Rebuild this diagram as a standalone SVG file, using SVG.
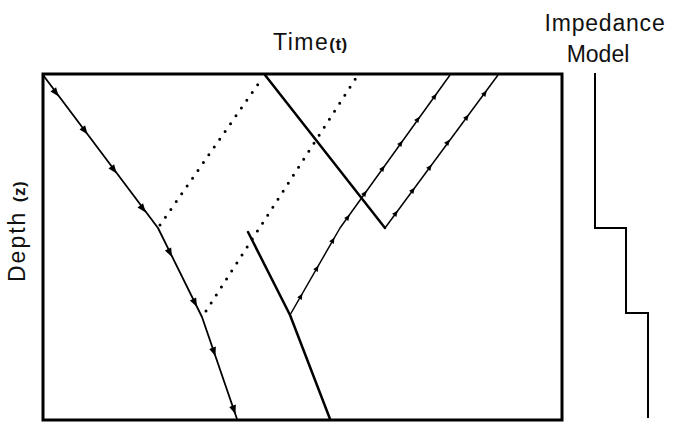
<svg xmlns="http://www.w3.org/2000/svg" xmlns:xlink="http://www.w3.org/1999/xlink" width="675" height="425" viewBox="0 0 675 425">
<style>
.lbl{font-family:"Liberation Sans",Arial,sans-serif;fill:#111;}
.box{fill:none;stroke:#000;stroke-width:3;}
.thick{fill:none;stroke:#000;stroke-width:2.5;stroke-linecap:round;stroke-linejoin:round;}
.ray{fill:none;stroke:#000;stroke-width:1.8;stroke-linejoin:round;}
.up{fill:none;stroke:#000;stroke-width:1.5;stroke-linejoin:round;}
.dot{fill:none;stroke:#000;stroke-width:3;stroke-linecap:round;stroke-dasharray:0 9.5;}
.imp{fill:none;stroke:#000;stroke-width:2;}
</style>
<defs>
<path id="ah" d="M4.5,0 L-4.5,-3.5 L-4.5,3.5 Z" fill="#000"/>
<path id="ahs" d="M3,0 L-3,-2.6 L-3,2.6 Z" fill="#000"/>
</defs>
<rect width="675" height="425" fill="#fff"/>
<g id="labels">
<text class="lbl" x="273" y="50" font-size="23" letter-spacing="1.5">Time<tspan font-size="17" font-weight="bold" letter-spacing="0.5">(t)</tspan></text>
<text class="lbl" x="605" y="31" font-size="23" text-anchor="middle" letter-spacing="0.8">Impedance</text>
<text class="lbl" x="598" y="62" font-size="23" text-anchor="middle">Model</text>
<text class="lbl" transform="translate(25,282) rotate(-90)" font-size="23" letter-spacing="2">Depth <tspan font-size="17" font-weight="bold" letter-spacing="0.5">(z)</tspan></text>
</g>
<g id="section">
<path class="box" d="M43,74 L562,74 L562,420 L43,420 Z"/>
</g>
<g id="impedance-model">
<path class="imp" d="M595,73 L595,228 L626,228 L626,313 L648,313 L648,418"/>
</g>
<g id="connectors">
<path class="ray" d="M43,75 L158,228 L202,317 L237,419"/>
<use xlink:href="#ah" transform="translate(56,93) rotate(53)"/>
<use xlink:href="#ah" transform="translate(85,131) rotate(53)"/>
<use xlink:href="#ah" transform="translate(114,170) rotate(53)"/>
<use xlink:href="#ah" transform="translate(143,209) rotate(53)"/>
<use xlink:href="#ah" transform="translate(170,253) rotate(64)"/>
<use xlink:href="#ah" transform="translate(195,303) rotate(64)"/>
<use xlink:href="#ah" transform="translate(214,352) rotate(71)"/>
<use xlink:href="#ah" transform="translate(234,410) rotate(71)"/>
<path class="dot" d="M160,225 L263,77"/>
<path class="dot" d="M206,311 L356,78"/>
<path class="thick" d="M265,75 L385,228"/>
<path class="thick" d="M248,232 L290,315 L330,419"/>
<path class="up" d="M385,228 L498,75"/>
<use xlink:href="#ahs" transform="translate(485,93) rotate(-53.6)"/>
<use xlink:href="#ahs" transform="translate(467,117) rotate(-53.6)"/>
<use xlink:href="#ahs" transform="translate(448,142) rotate(-53.6)"/>
<use xlink:href="#ahs" transform="translate(430,167) rotate(-53.6)"/>
<use xlink:href="#ahs" transform="translate(413,190) rotate(-53.6)"/>
<use xlink:href="#ahs" transform="translate(396,213) rotate(-53.6)"/>
<path class="up" d="M290,315 L340,228 L450,75"/>
<use xlink:href="#ahs" transform="translate(301,296) rotate(-60)"/>
<use xlink:href="#ahs" transform="translate(317,268) rotate(-60)"/>
<use xlink:href="#ahs" transform="translate(333,240) rotate(-60)"/>
<use xlink:href="#ahs" transform="translate(348,217) rotate(-54)"/>
<use xlink:href="#ahs" transform="translate(365,193) rotate(-54)"/>
<use xlink:href="#ahs" transform="translate(383,168) rotate(-54)"/>
<use xlink:href="#ahs" transform="translate(401,143) rotate(-54)"/>
<use xlink:href="#ahs" transform="translate(418,119) rotate(-54)"/>
<use xlink:href="#ahs" transform="translate(435,96) rotate(-54)"/>
</g>
</svg>
